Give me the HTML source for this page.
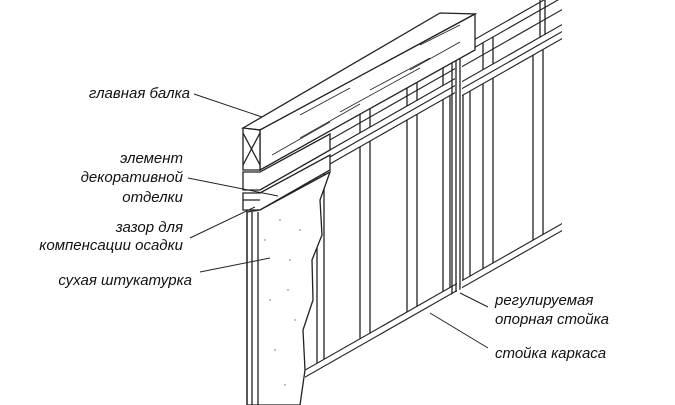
<!DOCTYPE html>
<html><head><meta charset="utf-8"><style>
html,body{margin:0;padding:0;background:#fff;}
svg{display:block;}
text{font-family:"Liberation Sans",sans-serif;font-style:italic;font-size:15px;fill:#111;}
</style></head><body>
<svg width="675" height="405" viewBox="0 0 675 405" xmlns="http://www.w3.org/2000/svg">
<g fill="none" stroke="#222" stroke-width="1.3">
 <g transform="matrix(1,-0.57,0,1,0,0)">
  <line x1="305" y1="544" x2="457" y2="544"/>
  <line x1="305" y1="551" x2="457" y2="551"/>
  <line x1="462" y1="544" x2="562" y2="544"/>
  <line x1="462" y1="551" x2="562" y2="551"/>
  <line x1="310" y1="338" x2="455" y2="338"/>
  <line x1="310" y1="345" x2="455" y2="345"/>
  <line x1="310" y1="352" x2="455" y2="352"/>
  <line x1="330" y1="328" x2="455" y2="328"/>
  <line x1="360" y1="310" x2="360" y2="338"/>
  <line x1="370" y1="310" x2="370" y2="338"/>
  <line x1="407" y1="300" x2="407" y2="338"/>
  <line x1="417" y1="300" x2="417" y2="338"/>
  <line x1="443" y1="290" x2="443" y2="338"/>
  <line x1="317" y1="352" x2="317" y2="544"/>
  <line x1="324" y1="352" x2="324" y2="544"/>
  <line x1="360" y1="352" x2="360" y2="544"/>
  <line x1="370" y1="352" x2="370" y2="544"/>
  <line x1="407" y1="352" x2="407" y2="544"/>
  <line x1="417" y1="352" x2="417" y2="544"/>
  <line x1="443" y1="352" x2="443" y2="544"/>
  <line x1="450" y1="352" x2="450" y2="544"/>
  <line x1="452" y1="300" x2="452" y2="552"/>
  <line x1="456" y1="300" x2="456" y2="552"/>
  <line x1="460" y1="300" x2="460" y2="552"/>
  <line x1="462" y1="345" x2="562" y2="345"/>
  <line x1="462" y1="352" x2="562" y2="352"/>
  <line x1="462" y1="359" x2="562" y2="359"/>
  <line x1="462" y1="310" x2="562" y2="310"/>
  <line x1="462" y1="318" x2="562" y2="318"/>
  <line x1="462" y1="330" x2="562" y2="330"/>
  <line x1="483" y1="318" x2="483" y2="345"/>
  <line x1="493" y1="318" x2="493" y2="345"/>
  <line x1="540" y1="290" x2="540" y2="345"/>
  <line x1="545" y1="290" x2="545" y2="345"/>
  <line x1="463" y1="359" x2="463" y2="544"/>
  <line x1="470" y1="359" x2="470" y2="544"/>
  <line x1="483" y1="359" x2="483" y2="544"/>
  <line x1="493" y1="359" x2="493" y2="544"/>
  <line x1="533" y1="359" x2="533" y2="544"/>
  <line x1="543" y1="359" x2="543" y2="544"/>
 </g>
 <!-- beam -->
 <polygon points="243,128 440,13 475,14 260,130" fill="#fff"/>
 <polygon points="260,130 475,14 475,50 260,170" fill="#fff"/>
 <polygon points="243,128 260,130 260,170 243,170" fill="#fff"/>
 <line x1="243" y1="133" x2="260" y2="165"/>
 <line x1="260" y1="133" x2="243" y2="165"/>
 <g stroke-width="0.8">
  <line x1="272" y1="155" x2="330" y2="122"/>
  <line x1="300" y1="138" x2="360" y2="104"/>
  <line x1="340" y1="112" x2="420" y2="68"/>
  <line x1="370" y1="90" x2="430" y2="58"/>
  <line x1="410" y1="70" x2="460" y2="42"/>
  <line x1="300" y1="115" x2="350" y2="88"/>
  <line x1="420" y1="45" x2="460" y2="25"/>
 </g>
 <!-- decorative trim -->
 <polygon points="243,172 260,172 330,134 330,150 260,190 243,190" fill="#fff"/>
 <polygon points="243,193 260,193 330,155 330,170 260,210 243,210" fill="#fff"/>
 <line x1="243" y1="200" x2="260" y2="200"/>
 <!-- drywall -->
 <path d="M247,212 L260,210 L330,172 L320,200 L322,235 L312,260 L313,300 L303,330 L305,370 L300,405 L247,405 Z" fill="#fff"/>
 <line x1="247" y1="212" x2="247" y2="405"/>
 <line x1="252" y1="212" x2="252" y2="405"/>
 <line x1="258" y1="212" x2="258" y2="405"/>
 <g stroke-width="1">
  <line x1="194" y1="94" x2="262" y2="117"/>
  <line x1="188" y1="178" x2="278" y2="196"/>
  <line x1="190" y1="238" x2="255" y2="207"/>
  <line x1="200" y1="272" x2="270" y2="258"/>
  <line x1="460" y1="293" x2="488" y2="307"/>
  <line x1="430" y1="313" x2="488" y2="348"/>
 </g>
</g>
<g fill="#666">
 <circle cx="280" cy="220" r="0.7"/><circle cx="290" cy="260" r="0.7"/><circle cx="270" cy="300" r="0.7"/>
 <circle cx="295" cy="320" r="0.7"/><circle cx="275" cy="350" r="0.7"/><circle cx="285" cy="385" r="0.7"/>
 <circle cx="300" cy="230" r="0.7"/><circle cx="265" cy="240" r="0.7"/><circle cx="288" cy="290" r="0.7"/>
</g>
<text x="190" y="98" text-anchor="end">главная балка</text>
<text x="183" y="163" text-anchor="end">элемент</text>
<text x="183" y="182" text-anchor="end">декоративной</text>
<text x="183" y="202" text-anchor="end">отделки</text>
<text x="183" y="232" text-anchor="end">зазор для</text>
<text x="183" y="250" text-anchor="end">компенсации осадки</text>
<text x="192" y="285" text-anchor="end">сухая штукатурка</text>
<text x="495" y="305">регулируемая</text>
<text x="495" y="324">опорная стойка</text>
<text x="495" y="358">стойка каркаса</text>
</svg>
</body></html>
